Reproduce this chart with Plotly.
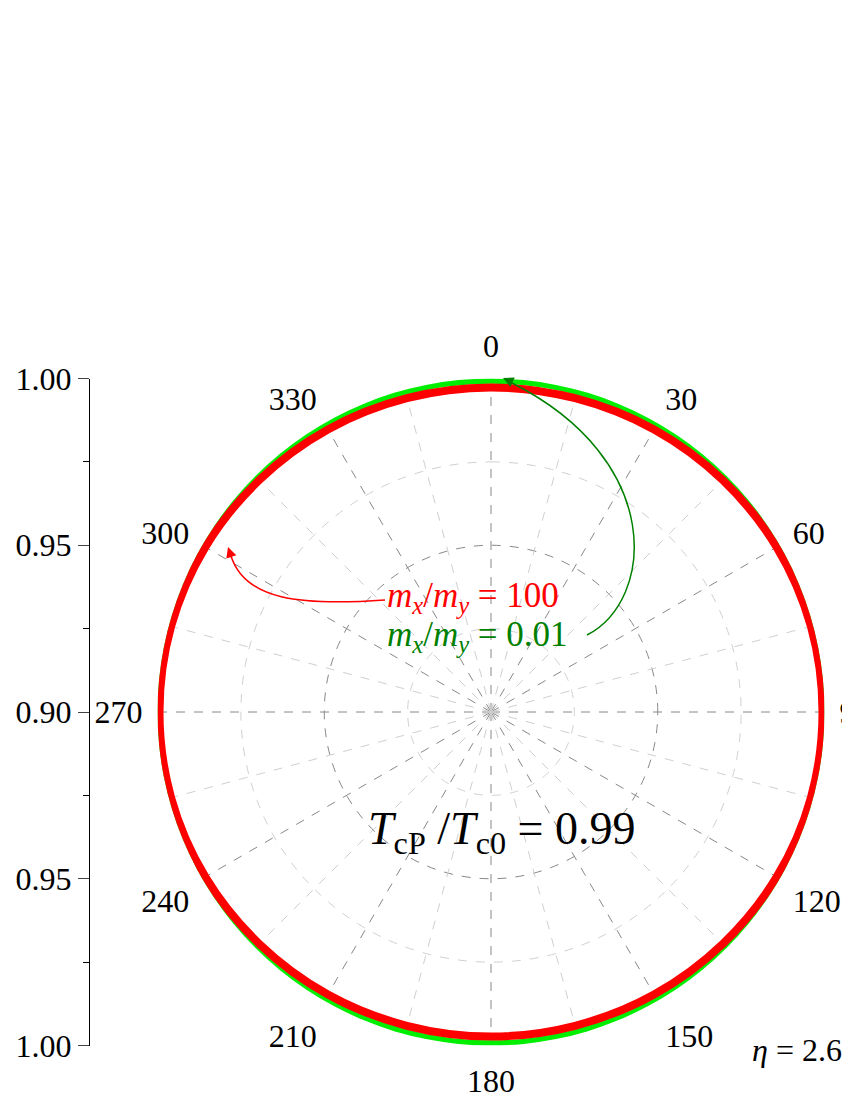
import numpy as np
import plotly.graph_objects as go

# angles (deg) and r values
theta = [0, 15, 30, 45, 60, 75, 90, 105, 120, 135, 150, 165, 180,
         195, 210, 225, 240, 255, 270, 285, 300, 315, 330, 345, 360]
r_green = [0.9995] * 25   # m_x/m_y = 0.01
r_red = [0.9973, 0.9974, 0.9978, 0.9983, 0.9989, 0.9993, 0.9994, 0.9993, 0.9989,
         0.9983, 0.9978, 0.9974, 0.9973, 0.9974, 0.9978, 0.9983, 0.9989, 0.9993,
         0.9994, 0.9993, 0.9989, 0.9983, 0.9978, 0.9974, 0.9973]  # m_x/m_y = 100

ang_major = [0, 30, 60, 90, 120, 150, 180, 210, 240, 270, 300, 330]
ang_minor = [15, 45, 75, 105, 135, 165, 195, 225, 255, 285, 315, 345]
r_grid_minor = [0.925, 0.975]
r_grid_major = [0.95]
left_vals = [-0.1, -0.05, 0, 0.05, 0.1]
left_text = ["1.00", "0.95", "0.90", "0.95", "1.00"]
left_minor = [-0.075, -0.025, 0.025, 0.075]

W, H = 850, 1100
OFF = 8  # page body margin
FONT = "Liberation Serif"
GRID_DARK = "#888888"
GRID_LIGHT = "#cfcfcf"


def px(x, y):
    # screen pixel -> paper fraction
    return (x - OFF) / W, 1 - (y - OFF) / H


cx, cy, R = 491, 712, 333.5
x0, y0 = px(cx - R, cy + R)
x1, y1 = px(cx + R, cy - R)
dom_x = [x0, x1]
dom_y = [y0, y1]

fig = go.Figure()

# light dashed spokes at 15 deg offsets and light circles
for a in ang_minor:
    fig.add_trace(go.Scatterpolar(r=[0.9, 1.0], theta=[a, a], mode="lines",
                                  line=dict(color=GRID_LIGHT, width=1, dash="dash"),
                                  showlegend=False, hoverinfo="skip"))
circ = np.linspace(0, 360, 361)
for rr in r_grid_minor:
    fig.add_trace(go.Scatterpolar(r=[rr] * len(circ), theta=circ, mode="lines",
                                  line=dict(color=GRID_LIGHT, width=1, dash="dash"),
                                  showlegend=False, hoverinfo="skip"))

fig.add_trace(go.Scatterpolar(r=r_green, theta=theta, mode="lines", line_shape="spline",
                              line=dict(color="#00ee00", width=7), cliponaxis=False,
                              showlegend=False))
fig.add_trace(go.Scatterpolar(r=r_red, theta=theta, mode="lines", line_shape="spline",
                              line=dict(color="#ff0000", width=8), cliponaxis=False,
                              showlegend=False))

# dummy trace so the left scale axis gets drawn
fig.add_trace(go.Scatter(x=[None], y=[None], showlegend=False, hoverinfo="skip"))

fig.update_layout(
    width=W, height=H,
    margin=dict(l=0, r=0, t=0, b=0, autoexpand=False),
    paper_bgcolor="white", plot_bgcolor="white",
    font=dict(family=FONT, size=32, color="black"),
    polar=dict(
        domain=dict(x=dom_x, y=dom_y),
        bgcolor="white",
        radialaxis=dict(range=[0.9, 1.0], tickvals=r_grid_major, showticklabels=False,
                        ticks="", showline=False, gridcolor=GRID_DARK, griddash="dash",
                        gridwidth=1.2),
        angularaxis=dict(rotation=90, direction="clockwise", tickmode="array",
                         tickvals=ang_major, ticktext=[str(a) for a in ang_major],
                         ticks="outside", ticklen=8, tickcolor="rgba(0,0,0,0)",
                         showline=False, gridcolor=GRID_DARK, griddash="dash",
                         gridwidth=1.2, tickfont=dict(size=32, family=FONT)),
    ),
    xaxis=dict(domain=[px(90, 0)[0], 0.15], visible=False, range=[0, 1]),
    yaxis=dict(domain=dom_y, range=[-0.1, 0.1], tickmode="array", tickvals=left_vals,
               ticktext=left_text, ticks="outside", ticklen=11, tickwidth=1,
               showline=True, linecolor="black", linewidth=1, showgrid=False,
               zeroline=False, automargin=False, tickfont=dict(size=32, family=FONT),
               minor=dict(tickvals=left_minor, ticks="outside", ticklen=6,
                          tickcolor="black")),
)

# curved arrows
fig.add_shape(type="path", xref="paper", yref="paper",
              path="M {} {} C {} {}, {} {}, {} {}".format(*px(385, 600), *px(300, 606),
                                                          *px(245, 600), *px(231, 556)),
              line=dict(color="red", width=1.5))
fig.add_shape(type="path", xref="paper", yref="paper",
              path="M {} {} C {} {}, {} {}, {} {}".format(*px(587, 635), *px(655, 600),
                                                          *px(665, 460), *px(512, 383)),
              line=dict(color="green", width=1.5))

# arrow heads
for (x, y), (ax, ay), col in [((228, 547), (4, 12), "red"), ((503, 378), (11, 5), "green")]:
    xx, yy = px(x, y)
    fig.add_annotation(x=xx, y=yy, xref="paper", yref="paper", ax=ax, ay=ay,
                       axref="pixel", ayref="pixel", text="", showarrow=True,
                       arrowhead=2, arrowsize=1.4, arrowwidth=1.5, arrowcolor=col)

labels = [
    ("<i>m</i><sub><i>x</i></sub>/<i>m</i><sub><i>y</i></sub> = 100", 385, 597, 35, "red"),
    ("<i>m</i><sub><i>x</i></sub>/<i>m</i><sub><i>y</i></sub> = 0.01", 385, 636, 35, "green"),
    ("<i>T</i><sub>cP</sub> /<i>T</i><sub>c0</sub> = 0.99", 366, 832, 46, "black"),
    ("<i>η</i> = 2.6", 750, 1050, 32, "black"),
]
for txt, x, y, s, col in labels:
    xx, yy = px(x, y)
    fig.add_annotation(x=xx, y=yy, xref="paper", yref="paper", text=txt, showarrow=False,
                       xanchor="left", yanchor="middle",
                       font=dict(size=s, color=col, family=FONT))

fig.write_html("out.html")
